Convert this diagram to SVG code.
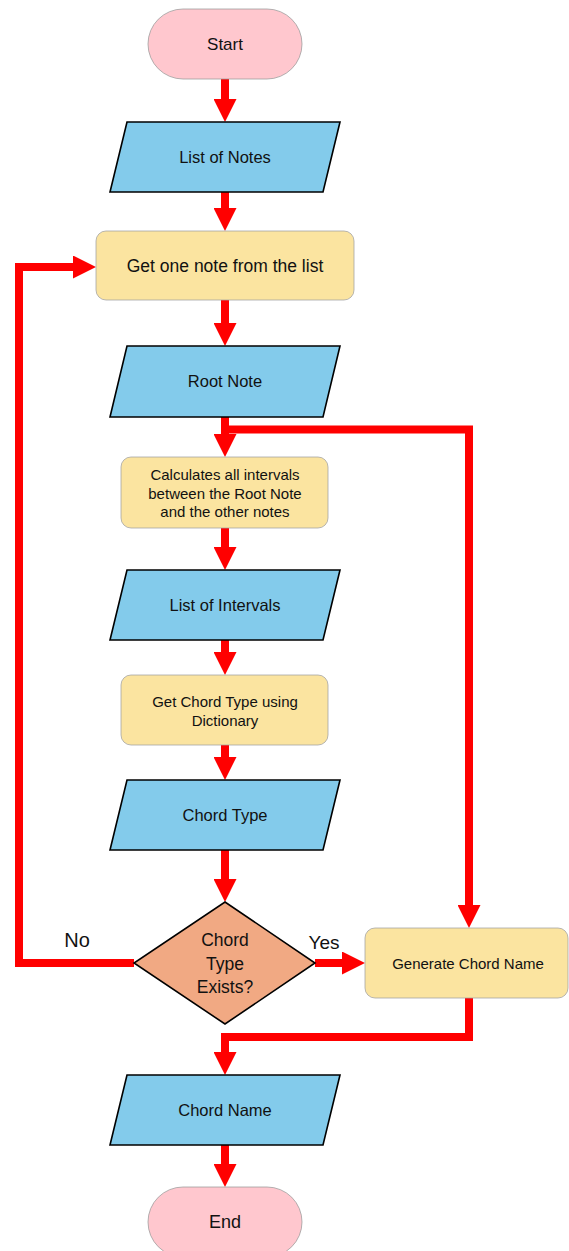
<svg xmlns="http://www.w3.org/2000/svg" width="569" height="1251" viewBox="0 0 569 1251">
<style>
text{font-family:"Liberation Sans",Arial,sans-serif;fill:#111;text-anchor:middle}
.term{fill:#FFC7CE;stroke:#9a9a9a;stroke-width:0.75}
.io{fill:#83CBEB;stroke:#000;stroke-width:1.6}
.proc{fill:#FBE4A0;stroke:#a0a0a0;stroke-width:0.75}
.dec{fill:#F1A983;stroke:#000;stroke-width:1.6}
.c{fill:none;stroke:#FF0000;stroke-width:8;stroke-linejoin:miter;marker-end:url(#ah)}
</style>
<defs>
<marker id="ah" markerUnits="userSpaceOnUse" viewBox="0 0 23 23" refX="3" refY="11.5" markerWidth="23" markerHeight="23" orient="auto">
<path d="M0,0 L23,11.5 L0,23 Z" fill="#FF0000"/>
</marker>
</defs>
<g id="connectors">
<path class="c" d="M225,79 V102"/>
<path class="c" d="M225,192 V211"/>
<path class="c" d="M225,300 V326"/>
<path class="c" d="M225,417 V437"/>
<path class="c" d="M225,429.5 H469 V908"/>
<path class="c" d="M225,528 V550"/>
<path class="c" d="M225,640 V655"/>
<path class="c" d="M225,745 V760"/>
<path class="c" d="M225,850 V882"/>
<path class="c" d="M134,963 H19 V267 H76"/>
<path class="c" d="M315,963 H345"/>
<path class="c" d="M469,998 V1037 H225 V1055"/>
<path class="c" d="M225,1145 V1167"/>
</g>
<g id="start"><rect class="term" x="148" y="9" width="154" height="70" rx="35"/><text x="225" y="50" font-size="17">Start</text></g>
<g id="list-notes"><polygon class="io" points="127,122 340,122 323,192 110,192"/><text x="225" y="163" font-size="16.5">List of Notes</text></g>
<g id="get-note"><rect class="proc" x="96" y="231" width="258" height="69" rx="10"/><text x="225" y="272" font-size="17.5">Get one note from the list</text></g>
<g id="root-note"><polygon class="io" points="127,346 340,346 323,417 110,417"/><text x="225" y="387" font-size="16.5">Root Note</text></g>
<g id="calc"><rect class="proc" x="121" y="457" width="207" height="71" rx="10"/><text x="225" y="480" font-size="15">Calculates all intervals</text><text x="225" y="498.5" font-size="15">between the Root Note</text><text x="225" y="517" font-size="15">and the other notes</text></g>
<g id="list-intervals"><polygon class="io" points="127,570 340,570 323,640 110,640"/><text x="225" y="611" font-size="16.5">List of Intervals</text></g>
<g id="get-chord-type"><rect class="proc" x="121" y="675" width="207" height="70" rx="10"/><text x="225" y="707" font-size="15">Get Chord Type using</text><text x="225" y="725.5" font-size="15">Dictionary</text></g>
<g id="chord-type"><polygon class="io" points="127,780 340,780 323,850 110,850"/><text x="225" y="821" font-size="16.5">Chord Type</text></g>
<g id="decision"><polygon class="dec" points="225,902 315,963 225,1024 134,963"/><text x="225" y="946" font-size="17.5">Chord</text><text x="225" y="970" font-size="17.5">Type</text><text x="225" y="993" font-size="17.5">Exists?</text></g>
<g id="labels"><text x="77" y="947" font-size="20">No</text><text x="324" y="949" font-size="19">Yes</text></g>
<g id="generate"><rect class="proc" x="365" y="928" width="203" height="70" rx="10"/><text x="468" y="968.5" font-size="15">Generate Chord Name</text></g>
<g id="chord-name"><polygon class="io" points="127,1075 340,1075 323,1145 110,1145"/><text x="225" y="1116" font-size="16.5">Chord Name</text></g>
<g id="end"><rect class="term" x="148" y="1187" width="154" height="70" rx="35"/><text x="225" y="1228" font-size="18">End</text></g>
</svg>
